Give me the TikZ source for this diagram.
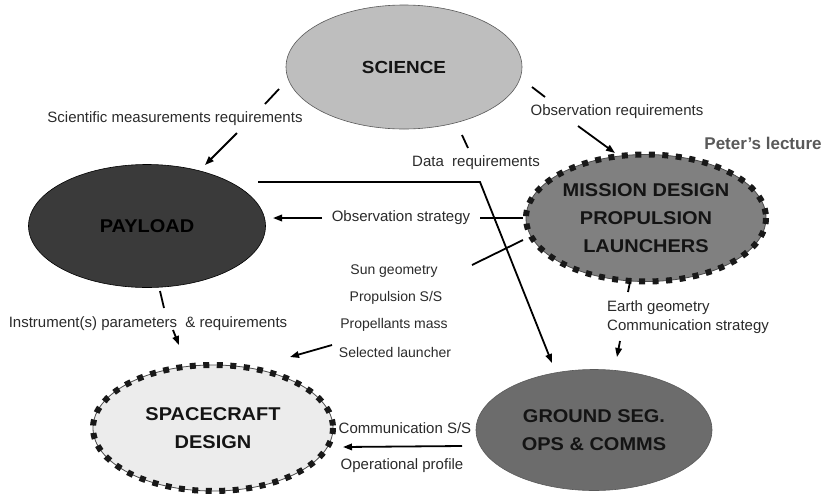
\documentclass[tikz,border=0pt]{standalone}
\usepackage{fontspec}
\setmainfont{Liberation Sans}
\newfontfamily\ttlfont[FakeStretch=1.08]{Liberation Sans}
\usetikzlibrary{shapes.geometric,arrows.meta}
\definecolor{sciFill}{HTML}{BEBEBE}
\definecolor{payFill}{HTML}{3A3A3A}
\definecolor{misFill}{HTML}{808080}
\definecolor{scFill}{HTML}{ECECEC}
\definecolor{gndFill}{HTML}{6C6C6C}
\definecolor{txt}{HTML}{2A2A2A}
\begin{document}
\begin{tikzpicture}[x=1pt,y=-1pt,
  blob/.style={ellipse, inner sep=0pt, align=center, text=black!92,
    font=\ttlfont\bfseries\fontsize{18.5}{28}\selectfont},
  plainb/.style={draw=black!65, line width=0.6pt},
  dotb/.style={draw=black!70, line width=0.8pt},
  dotring/.style={draw=black!90, line width=6pt, dash pattern=on 6pt off 7.5pt},
  lbl/.style={inner sep=0pt, text=txt, font=\fontsize{15}{18}\selectfont},
  lbls/.style={inner sep=0pt, text=txt, font=\fontsize{14}{17}\selectfont},
  conn/.style={line width=1.8pt, black},
  arr/.style={conn, -{Triangle[length=9pt,width=6.5pt]}}
]
\useasboundingbox (0,0) rectangle (825,496);

% ---- ellipses
\node[blob, plainb, fill=sciFill, minimum width=236pt, minimum height=124pt,
  font=\ttlfont\bfseries\fontsize{17.5}{28}\selectfont] (sci) at (404,67) {SCIENCE};
\node[blob, draw=black, line width=0.6pt, fill=payFill, minimum width=237pt, minimum height=123pt,
  text=black] (pay) at (147,226) {PAYLOAD};
\node[blob, dotb, fill=misFill, minimum width=240pt, minimum height=127pt] (mis) at (646,218)
  {MISSION DESIGN\\PROPULSION\\LAUNCHERS};
\node[blob, dotb, fill=scFill, minimum width=240pt, minimum height=126pt] (sc) at (213,428)
  {SPACECRAFT\\DESIGN};
\node[blob, plainb, fill=gndFill, minimum width=236pt, minimum height=121pt] (gnd) at (594,430)
  {GROUND SEG.\\OPS \& COMMS};
\draw[dotring] (mis.center) ellipse [x radius=120, y radius=63.5];
\draw[dotring] (sc.center) ellipse [x radius=120, y radius=63];

% ---- labels
\node[lbl] (lsci) at (175,119) {Scientific measurements requirements};
\node[lbl] (lobs) at (617,112) {Observation requirements};
\node[lbl] (ldata) at (476,163) {Data\ \ requirements};
\node[lbl] (lstrat) at (401,218) {Observation strategy};
\node[lbls] (lsun) at (394,271) {Sun geometry};
\node[lbls] (lprop) at (396,298) {Propulsion S/S};
\node[lbls] (lmass) at (394,325) {Propellants mass};
\node[lbls] (llaun) at (395,352) {Selected launcher};
\node[lbl] (linst) at (148,324) {Instrument(s) parameters\ \ \& requirements};
\node[lbl, anchor=west] (learth) at (607,308) {Earth geometry};
\node[lbl, anchor=west] (lcomm) at (607,327) {Communication strategy};
\node[lbl] (lcss) at (405,428) {Communication S/S};
\node[lbl] (lops) at (402,466) {Operational profile};
\node[inner sep=0pt, text=black!65, font=\bfseries\fontsize{17}{20}\selectfont] (peter) at (763,143) {Peter's lecture};

% ---- connector end points
\coordinate (sp1) at (279,89);  \coordinate (sp2) at (265,104);
\coordinate (sp3) at (237,133); \coordinate (sp4) at (205,165);
\coordinate (sm1) at (532,87);  \coordinate (sm2) at (545,97);
\coordinate (sm3) at (578,126); \coordinate (sm4) at (615,153);
\coordinate (sd1) at (462,135); \coordinate (sd2) at (468,148);
\coordinate (pg1) at (258,182); \coordinate (pg2) at (480,182); \coordinate (pg3) at (552,363);
\coordinate (mp1) at (523,218); \coordinate (mp2) at (480,218);
\coordinate (mp3) at (322,218); \coordinate (mp4) at (273,218);
\coordinate (ms1) at (523,240); \coordinate (ms2) at (472,265);
\coordinate (ms3) at (332,345); \coordinate (ms4) at (290,357);
\coordinate (ps1) at (160,291); \coordinate (ps2) at (164,308);
\coordinate (ps3) at (173,330); \coordinate (ps4) at (179,345);
\coordinate (mg1) at (630,282); \coordinate (mg2) at (628,292);
\coordinate (mg3) at (620,341); \coordinate (mg4) at (617,357);
\coordinate (gs1) at (462,446); \coordinate (gs2) at (343,447);

% ---- connectors
\draw[conn] (sp1) -- (sp2);  \draw[arr] (sp3) -- (sp4);
\draw[conn] (sm1) -- (sm2);  \draw[arr] (sm3) -- (sm4);
\draw[conn] (sd1) -- (sd2);
\draw[arr] (pg1) -- (pg2) -- (pg3);
\draw[conn] (mp1) -- (mp2);  \draw[arr] (mp3) -- (mp4);
\draw[conn] (ms1) -- (ms2);  \draw[arr] (ms3) -- (ms4);
\draw[conn] (ps1) -- (ps2);  \draw[arr] (ps3) -- (ps4);
\draw[conn] (mg1) -- (mg2);  \draw[arr] (mg3) -- (mg4);
\draw[arr] (gs1) -- (gs2);
\end{tikzpicture}
\end{document}
